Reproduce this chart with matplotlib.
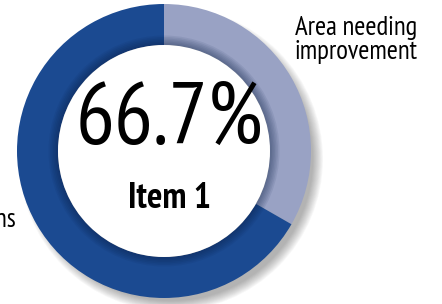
import matplotlib

matplotlib.use("Agg")
import matplotlib.pyplot as plt
from matplotlib.patches import Circle

# chart data
labels = ["Area needing\nimprovement", "Strengths"]
values = [33.3, 66.7]
colors = ["#99a2c4", "#1b4a91"]
center_value = "66.7%"
center_label = "Item 1"

W, H = 442, 304
plt.rcParams["font.family"] = ["PT Sans Narrow", "DejaVu Sans"]

fig = plt.figure(figsize=(W / 100, H / 100), dpi=100)
ax = fig.add_axes([0, 0, 1, 1])

cx, cy = 164, H - 151
r_out, ring_w = 147, 41

# soft drop shadow toward lower right
for k in range(12):
    ax.add_patch(Circle((cx + 7, cy - 8), r_out + 5 - k * 0.9, color="0.2",
                        alpha=0.035, lw=0, zorder=1))

ax.pie(values, colors=colors, startangle=90, counterclock=False,
       radius=r_out, center=(cx, cy),
       wedgeprops=dict(width=ring_w, linewidth=0, zorder=2))
ax.set_xlim(0, W)
ax.set_ylim(0, H)
ax.set_aspect("equal")
ax.axis("off")

# inner shading of the ring
for k in range(6):
    ax.add_patch(Circle((cx, cy), r_out - ring_w + 2 + k * 1.5, color="#0a1f45",
                        alpha=0.08, lw=0, zorder=3))
ax.add_patch(Circle((cx, cy), r_out - ring_w, color="white", lw=0, zorder=4))

ax.text(cx + 5, H - 122, center_value, ha="center", va="center",
        fontsize=62.5, color="black", zorder=5)
ax.text(cx + 6, H - 198, center_label, ha="center", va="center",
        fontsize=26, fontweight="bold", color="black", zorder=5)

ax.text(295, H - 16, labels[0], ha="left", va="top",
        fontsize=19.3, linespacing=0.98, color="black")
ax.text(16, H - 227, labels[1], ha="right", va="baseline",
        fontsize=19.3, color="black")

fig.savefig("out.png", dpi=100)
